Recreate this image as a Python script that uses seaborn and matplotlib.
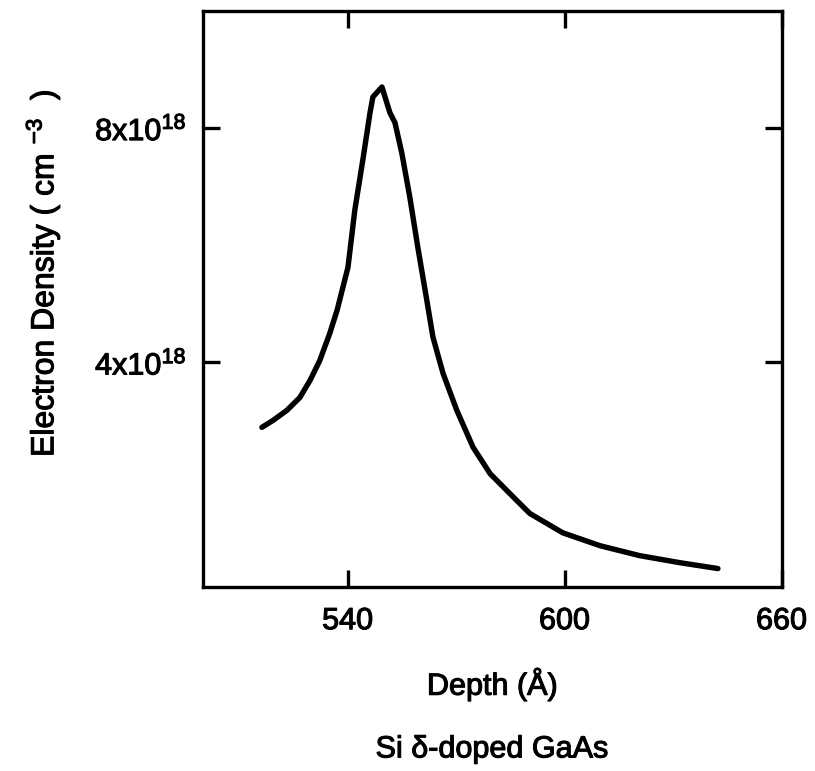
import matplotlib
matplotlib.use("Agg")
import matplotlib.pyplot as plt
import matplotlib.patheffects as pe
import seaborn as sns
import pandas as pd

depth = [516.3, 519.4, 523.2, 526.8, 529.6, 532.3, 535.1, 537.1, 538.7, 540.1,
         542.0, 544.2, 546.2, 547.0, 549.5, 551.7, 553.1, 555.0, 557.2, 559.4,
         561.9, 563.6, 566.4, 570.2, 574.7, 579.4, 586.8, 590.4, 599.5, 609.8,
         620.8, 631.9, 642.4]
density = [2.89, 3.01, 3.18, 3.40, 3.69, 4.03, 4.50, 4.89, 5.28, 5.62,
           6.60, 7.45, 8.26, 8.53, 8.70, 8.26, 8.09, 7.57, 6.82, 5.97,
           5.06, 4.43, 3.81, 3.18, 2.55, 2.10, 1.64, 1.42, 1.09, 0.87,
           0.70, 0.58, 0.48]
x_ticks = [540, 600, 660]
y_ticks = [4, 8]
y_tick_labels = [r"4x10$^{18}$", r"8x10$^{18}$"]

sns.set_style("ticks")
plt.rcParams["font.family"] = ["Liberation Sans", "DejaVu Sans"]
plt.rcParams["mathtext.default"] = "regular"
plt.rcParams["text.color"] = "black"
plt.rcParams["axes.labelcolor"] = "black"

df = pd.DataFrame({"depth": depth, "density": density})

fig = plt.figure(figsize=(8.15, 7.71), dpi=100)
ax = fig.add_axes([0.249, 0.239, 0.710, 0.747])
sns.lineplot(data=df, x="depth", y="density", ax=ax, color="black",
             linewidth=3.9, solid_capstyle="round", solid_joinstyle="round")

ax.set_xlim(500, 660)
ax.set_ylim(0.17, 10.0)
ax.set_xticks(x_ticks)
ax.set_xticklabels([str(t) for t in x_ticks])
ax.set_yticks(y_ticks)
ax.set_yticklabels(y_tick_labels)

for s in ax.spines.values():
    s.set_visible(True)
    s.set_linewidth(2.4)
    s.set_color("black")

ax.tick_params(direction="in", length=12, width=2.4, top=True, right=True,
               labelsize=22, colors="black", pad=12)
ax.tick_params(axis="x", pad=14)

bold = [pe.withStroke(linewidth=0.8, foreground="black")]

ax.set_xlabel("Depth (Å)", fontsize=22, labelpad=22)
ax.set_ylabel(r"Electron Density ( cm $^{-3}$  )", fontsize=23)
ax.yaxis.set_label_coords(-0.243, 0.545)
cap = fig.text(0.603, 0.028, "Si δ-doped GaAs", fontsize=22, ha="center", va="center")

for t in ax.get_xticklabels() + ax.get_yticklabels() + [ax.xaxis.label, ax.yaxis.label, cap]:
    t.set_path_effects(bold)

fig.savefig("out.png", dpi=100, facecolor="white")
